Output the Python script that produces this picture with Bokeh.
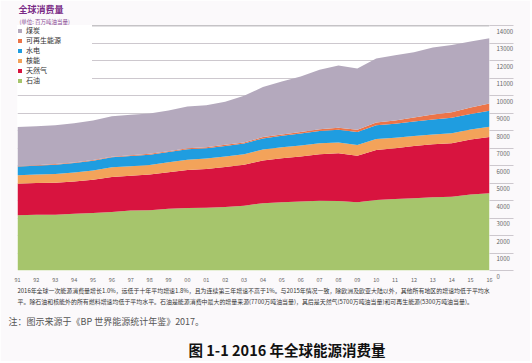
from bokeh.plotting import figure
from bokeh.models import (ColumnDataSource, FixedTicker, Legend, LegendItem, Span, Range1d, Title)
from bokeh.embed import file_html
from bokeh.resources import INLINE

# ---------------- data (Mtoe) ----------------
years = list(range(1991, 2017))
year_labels = ["91", "92", "93", "94", "95", "96", "97", "98", "99", "00", "01", "02", "03",
               "04", "05", "06", "07", "08", "09", "10", "11", "12", "13", "14", "15", "16"]

oil = [3160, 3190, 3180, 3240, 3280, 3350, 3430, 3450, 3530, 3570, 3590, 3630, 3700,
       3850, 3900, 3940, 3990, 3970, 3900, 4030, 4080, 4130, 4180, 4210, 4340, 4418]
gas = [1800, 1810, 1840, 1850, 1910, 2000, 1990, 2030, 2080, 2180, 2210, 2280, 2350,
       2440, 2510, 2570, 2660, 2730, 2660, 2860, 2910, 2990, 3030, 3060, 3140, 3204]
nuclear = [480, 485, 500, 510, 525, 545, 540, 555, 570, 585, 600, 610, 600,
           625, 627, 635, 622, 619, 614, 626, 600, 560, 563, 575, 583, 592]
hydro = [500, 500, 530, 540, 560, 570, 580, 585, 590, 600, 590, 600, 605,
         635, 660, 685, 695, 725, 735, 780, 790, 830, 860, 880, 880, 910]
renew = [30, 31, 33, 35, 37, 40, 43, 46, 49, 52, 55, 60, 64,
         72, 80, 90, 103, 120, 139, 165, 196, 237, 283, 320, 366, 420]
coal = [2230, 2220, 2220, 2240, 2260, 2310, 2320, 2310, 2330, 2380, 2400, 2470, 2660,
        2860, 3030, 3170, 3400, 3550, 3500, 3650, 3720, 3730, 3820, 3840, 3780, 3732]

series_names = ["石油", "天然气", "核能", "水电", "可再生能源", "煤炭"]   # bottom -> top
series_colors = ["#a6c56c", "#d8143f", "#f3a35a", "#1f9de0", "#ec7448", "#b4a9bd"]
y_ticks = list(range(0, 15000, 1000))

title_text = "全球消费量"
subtitle_text = "(单位: 百万吨油当量)"
para1 = ("2016年全球一次能源消费量增长1.0%，远低于十年平均增速1.8%，且为连续第三年增速不高于1%。"
         "与2015年情况一致，除欧洲及欧亚大陆以外，其他所有地区的增速均低于平均水")
para2 = ("平。除石油和核能外的所有燃料增速均低于平均水平。石油是能源消费中最大的增量来源"
         "(7700万吨油当量)，其后是天然气(5700万吨油当量)和可再生能源(5300万吨油当量)。")
note_text = "注：图示来源于《BP 世界能源统计年鉴》2017。"
caption_text = "图 1-1 2016 年全球能源消费量"

FONT = "Noto Sans CJK SC"

source = ColumnDataSource(dict(x=years, s0=oil, s1=gas, s2=nuclear, s3=hydro, s4=renew, s5=coal))
stackers = ["s0", "s1", "s2", "s3", "s4", "s5"]

p = figure(width=530, height=361, output_backend="svg", toolbar_location=None,
           x_range=Range1d(1991, 2016), y_range=Range1d(0, 14000),
           y_axis_location="right",
           min_border_left=17, min_border_right=41, min_border_top=24, min_border_bottom=88)
p.border_fill_color = "#fbf9fb"
p.background_fill_color = "#ffffff"
p.outline_line_color = None

renderers = p.varea_stack(stackers, x="x", color=series_colors, source=source)

# grid
p.xgrid.grid_line_color = None
p.ygrid.ticker = FixedTicker(ticks=y_ticks)
p.ygrid.grid_line_color = "#cdc8ce"
p.ygrid.grid_line_width = 1

top_rule = Span(location=14000, dimension="width", line_color="#8c878e", line_width=1.5)
p.add_layout(top_rule)

# right y axis: tick lines extend outward, labels sit just below each line
ya = p.yaxis[0]
ya.ticker = FixedTicker(ticks=y_ticks)
ya.axis_line_color = None
ya.major_tick_in = 0
ya.major_tick_out = 24
ya.major_tick_line_color = "#cdc8ce"
ya.minor_tick_line_color = None
ya.major_label_overrides = {t: "\n" + str(t) for t in y_ticks}
ya.major_label_standoff = -17
ya.major_label_text_line_height = 1.3
ya.major_label_text_font = FONT
ya.major_label_text_font_size = "6px"
ya.major_label_text_color = "#666666"

# bottom x axis
xa = p.xaxis[0]
xa.ticker = FixedTicker(ticks=years)
xa.major_label_overrides = {y: l for y, l in zip(years, year_labels)}
xa.axis_line_color = None
xa.major_tick_line_color = None
xa.minor_tick_line_color = None
xa.major_label_standoff = 0
xa.major_label_text_font = FONT
xa.major_label_text_font_size = "5.5px"
xa.major_label_text_color = "#666666"

# legend (top to bottom: 煤炭 ... 石油)
items = [LegendItem(label=series_names[i], renderers=[renderers[i]]) for i in reversed(range(6))]
legend = Legend(items=items, location="top_left", margin=0, padding=2,
                glyph_width=5, glyph_height=5, label_standoff=4, label_width=66,
                label_height=6, spacing=-4,
                label_text_font=FONT, label_text_font_size="7px", label_text_color="#333333",
                background_fill_color="#ffffff", background_fill_alpha=1.0,
                border_line_color=None)
p.add_layout(legend)

# titles above (added innermost first)
p.add_layout(Title(text=subtitle_text, align="left", offset=2, standoff=0,
                   text_font=FONT, text_font_size="5.5px", text_font_style="normal",
                   text_color="#8a4a95"), "above")
p.add_layout(Title(text=title_text, align="left", offset=1, standoff=0,
                   text_font=FONT, text_font_size="9px", text_font_style="bold",
                   text_color="#7a2b86"), "above")

# texts below the chart (added innermost first)
p.add_layout(Title(text=para1 + "\n" + para2, align="left", offset=0, standoff=-2,
                   text_font=FONT, text_font_size="5.95px", text_font_style="normal",
                   text_line_height=1.3, text_color="#333333"), "below")
p.add_layout(Title(text=note_text, align="left", offset=-9, standoff=14,
                   text_font=FONT, text_font_size="9px", text_font_style="normal",
                   text_color="#555555"), "below")
p.add_layout(Title(text=caption_text, align="left", offset=171, standoff=4,
                   text_font=FONT, text_font_size="14.5px", text_font_style="bold",
                   text_color="#111111"), "below")

open("out.html", "w").write(file_html(p, INLINE))
